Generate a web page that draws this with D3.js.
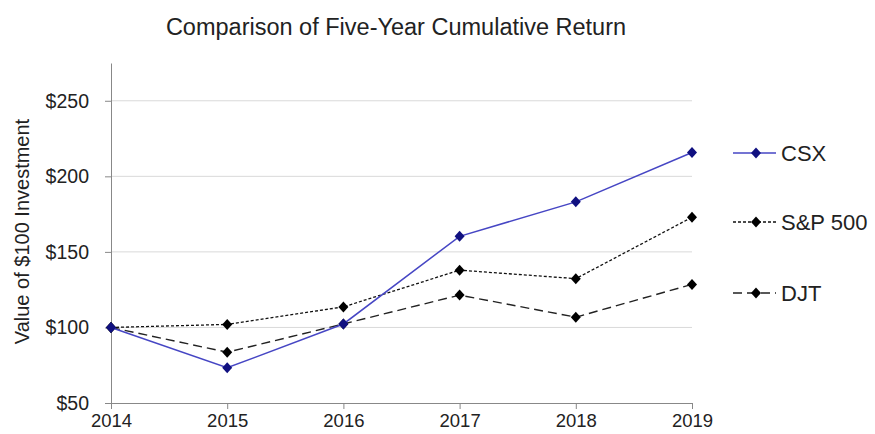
<!DOCTYPE html>
<html><head><meta charset="utf-8">
<script src="https://cdn.jsdelivr.net/npm/d3@7"></script>
<style>body{margin:0;background:#fff;} text{font-family:"Liberation Sans",Arial,sans-serif;}</style>
</head><body><svg id="c" width="875" height="434"></svg>
<script>
const years = [2014, 2015, 2016, 2017, 2018, 2019];
const csx = [100, 73.3, 102.3, 160.3, 183.1, 215.8];
const sp500 = [100, 102.0, 113.6, 137.9, 132.3, 172.9];
const djt = [100, 83.6, 102.3, 121.4, 106.8, 128.5];
const yTicks = [50, 100, 150, 200, 250];
const seriesNames = ["CSX", "S&P 500", "DJT"];

const svg = d3.select("#c");
const x = d3.scalePoint().domain(years).range([111, 692]);
const y = d3.scaleLinear().domain([50, 275]).range([403, 63]);
const FF = "Liberation Sans, Arial, sans-serif";

// gridlines
svg.append("g").selectAll("line").data(yTicks.filter(t => t > 50)).join("line")
  .attr("x1", 111).attr("x2", 692).attr("y1", d => y(d)).attr("y2", d => y(d))
  .attr("stroke", "#d9d9d9").attr("stroke-width", 1);

// axes
const yAxis = d3.axisLeft(y).tickValues(yTicks).tickFormat(d => "$" + d).tickSize(6).tickPadding(16).tickSizeOuter(0);
const gy = svg.append("g").attr("transform", "translate(111,0)").call(yAxis);
gy.select(".domain").attr("stroke", "#888");
gy.selectAll(".tick line").attr("stroke", "#888");
gy.selectAll("text").attr("font-size", 19.5).attr("fill", "#222").attr("font-family", FF);

const xAxis = d3.axisBottom(x).tickSize(6).tickPadding(5).tickSizeOuter(0);
const gx = svg.append("g").attr("transform", "translate(0,403)").call(xAxis);
gx.select(".domain").attr("stroke", "#888");
gx.selectAll(".tick line").attr("stroke", "#888");
gx.selectAll("text").attr("font-size", 18.5).attr("fill", "#222").attr("font-family", FF);

const series = [
  {name: seriesNames[0], values: csx, stroke: "#4646c4", dash: null, marker: "#101080", w: 1.5, ly: 153},
  {name: seriesNames[1], values: sp500, stroke: "#111", dash: "3,2", marker: "#000", w: 1.3, ly: 222},
  {name: seriesNames[2], values: djt, stroke: "#222", dash: "9,5", marker: "#000", w: 1.4, ly: 293}
];

const line = d3.line().x((d, i) => x(years[i])).y(d => y(d));
const diamond = "M0,-5.5L5,0L0,5.5L-5,0Z";

[series[2], series[1], series[0]].forEach(s => {
  svg.append("path").attr("d", line(s.values)).attr("fill", "none")
    .attr("stroke", s.stroke).attr("stroke-width", s.w).attr("stroke-dasharray", s.dash);
  svg.append("g").selectAll("path").data(s.values).join("path")
    .attr("d", diamond).attr("transform", (d, i) => `translate(${x(years[i])},${y(d)})`)
    .attr("fill", s.marker);
});

// legend
series.forEach(s => {
  const g = svg.append("g");
  g.append("line").attr("x1", 733).attr("x2", 776).attr("y1", s.ly).attr("y2", s.ly)
    .attr("stroke", s.stroke).attr("stroke-width", s.w).attr("stroke-dasharray", s.dash);
  g.append("path").attr("d", diamond).attr("transform", `translate(756,${s.ly})`).attr("fill", s.marker);
  g.append("text").attr("x", 781).attr("y", s.ly + 8).attr("font-size", 22).attr("fill", "#222").text(s.name);
});

// title
svg.append("text").attr("x", 396).attr("y", 35).attr("text-anchor", "middle")
  .attr("font-size", 23.5).attr("fill", "#222").text("Comparison of Five-Year Cumulative Return");

// y label
svg.append("text").attr("transform", "translate(29,231.5) rotate(-90)").attr("text-anchor", "middle")
  .attr("font-size", 20).attr("fill", "#222").text("Value of $100 Investment");
</script></body></html>
